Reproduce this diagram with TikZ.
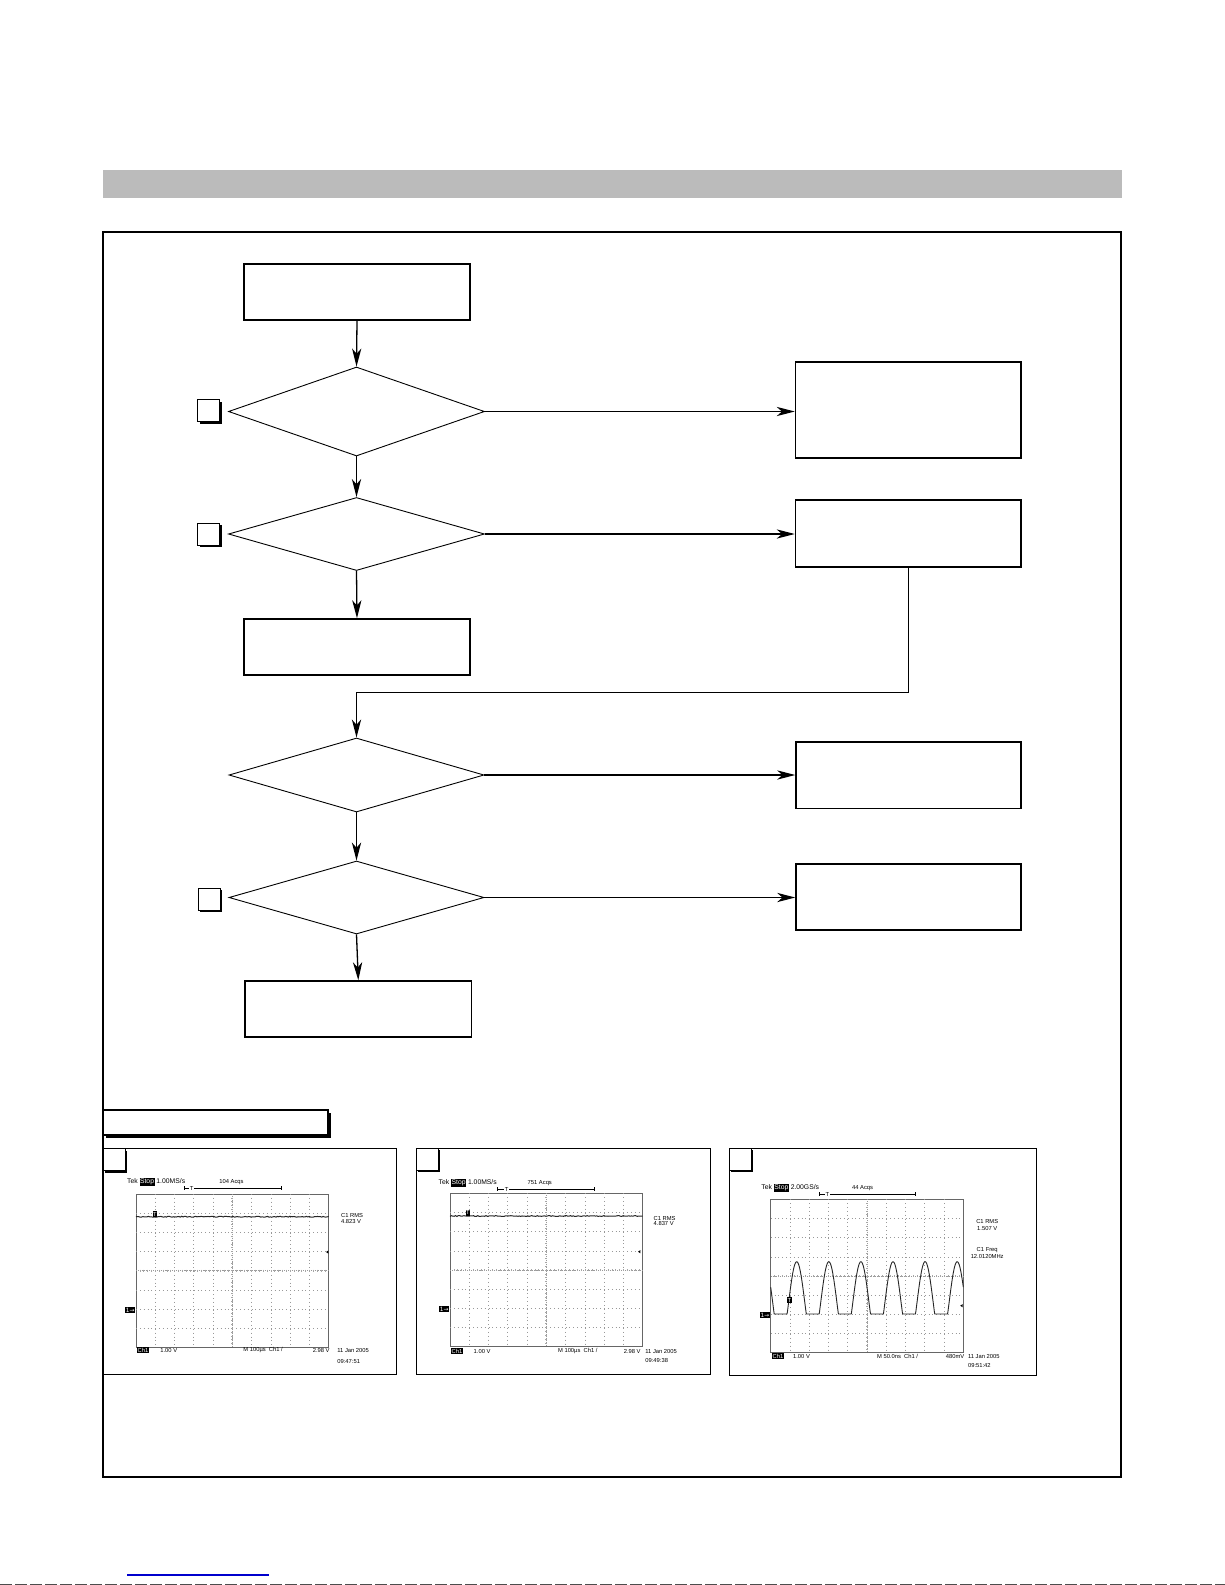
\documentclass[tikz,border=0pt]{standalone}
\usepackage{fontspec}
\setmainfont{Liberation Sans}
\newfontfamily\tekfont{Liberation Sans}
\newfontfamily\tekarrow{DejaVu Sans}
\usetikzlibrary{shapes.geometric,arrows.meta,shadows}
\definecolor{hdrgray}{RGB}{187,187,187}
\definecolor{linkblue}{RGB}{0,0,205}
\newcommand{\tekinv}[1]{{\setlength{\fboxsep}{0.25pt}\colorbox{black}{\color{white}#1}}}
\tikzset{
  frameline/.style={line width=1pt},
  box/.style={draw, line width=0.75pt, inner sep=0pt},
  dec/.style={draw, diamond, line width=0.45pt, inner sep=0pt},
  conn/.style={line width=0.65pt},
  arr/.style={conn, -{Stealth[length=9pt,width=4.6pt,inset=2.6pt]}},
  shad/.style={drop shadow={shadow xshift=1.1pt,shadow yshift=-1.1pt,opacity=1,fill=black}},
  tag/.style={draw, line width=0.45pt, fill=white, minimum size=11pt, inner sep=0pt, shad},
  pan/.style={draw, line width=0.5pt, inner sep=0pt},
  sc/.style={font=\tekfont\fontsize{2.9}{3.3}\selectfont, inner sep=0pt, anchor=west},
  sctop/.style={font=\tekfont\fontsize{3.4}{3.8}\selectfont, inner sep=0pt, anchor=west},
  scinv/.style={sc, fill=black, text=white, inner sep=0.3pt},
  gdot/.style={line width=0.3pt, black!40, dash pattern=on 0.35pt off 1.576pt},
  gaxis/.style={line width=0.3pt, black!40, dash pattern=on 0.35pt off 0.6pt},
  gtick/.style={line width=0.25pt, black!35},
  trace/.style={line width=0.5pt, black!85},
}
\newcommand{\tekgrid}{%
  \draw[line width=0.3pt, black!60] (0,0) rectangle (192.6,153.3);
  \foreach \i in {1,2,3,4,6,7,8,9} \draw[gdot] (\i*19.26,0) -- (\i*19.26,153.3);
  \foreach \j in {1,2,3,5,6,7} \draw[gdot] (0,\j*19.1625) -- (192.6,\j*19.1625);
  \draw[gaxis] (96.3,0) -- (96.3,153.3);
  \draw[gaxis] (0,76.65) -- (192.6,76.65);
  \foreach \k in {1,...,49} \draw[gtick] (\k*3.852,75.7) -- (\k*3.852,77.6);
  \foreach \k in {1,...,39} \draw[gtick] (95.35,\k*3.8325) -- (97.25,\k*3.8325);
}
\newcommand{\tekbracket}[3]{%
  \draw[line width=0.25pt] (#1,#3) -- (#2,#3);
  \draw[line width=0.3pt] (#1,#3-1.8) -- (#1,#3+1.8);
  \draw[line width=0.3pt] (#2,#3-1.8) -- (#2,#3+1.8);
}
\begin{document}
\begin{tikzpicture}[x=0.5pt,y=-0.5pt]
\useasboundingbox (0,0) rectangle (1225,1585);
\fill[white] (0,0) rectangle (1225,1585);
% header bar and frame
\fill[hdrgray] (103,170) rectangle (1122,198);
\draw[frameline] (103,232) rectangle (1121,1477);

% flowchart
\node[box, minimum width=113pt, minimum height=28pt] (b1) at (357,292) {};
\node[dec, minimum width=128pt, minimum height=44.5pt] (d1) at (356.5,411.5) {};
\node[tag] (t1) at (208.5,410.5) {};
\node[box, minimum width=112.75pt, minimum height=48pt] (r1) at (908.25,410) {};
\node[dec, minimum width=128pt, minimum height=36.5pt] (d2) at (356.5,534) {};
\node[tag] (t2) at (208.5,534) {};
\node[box, minimum width=112.75pt, minimum height=33.5pt] (r2) at (908.25,533.5) {};
\node[box, minimum width=113pt, minimum height=28pt] (b3) at (357,647) {};
\node[dec, minimum width=127.5pt, minimum height=37pt] (d3) at (356.5,775) {};
\node[box, minimum width=112.5pt, minimum height=33.3pt] (r3) at (908.5,775.3) {};
\node[dec, minimum width=127.5pt, minimum height=36.5pt] (d4) at (356.5,897.5) {};
\node[tag] (t3) at (209,899) {};
\node[box, minimum width=112.5pt, minimum height=33pt] (r4) at (908.5,897) {};
\node[box, minimum width=113.25pt, minimum height=28pt] (b6) at (358.3,1009) {};

\draw[arr] (b1.south) -- (d1.north);
\draw[arr] (d1.south) -- (d2.north);
\draw[arr] (d2.south) -- (b3.north);
\draw[arr] (d3.south) -- (d4.north);
\draw[arr] (d4.south) -- (b6.north);
\draw[arr] (d1.east) -- (d1.east -| r1.west);
\draw[arr] (d2.east) -- (d2.east -| r2.west);
\draw[arr] (d3.east) -- (d3.east -| r3.west);
\draw[arr] (d4.east) -- (d4.east -| r4.west);
\draw[arr] (r2.south) -- ++(0,125) -| (d3.north);

% waveform label box
\node[box, line width=0.6pt, fill=white, minimum width=112.5pt, minimum height=12.5pt,
      drop shadow={shadow xshift=1.5pt,shadow yshift=-1.5pt,opacity=1,fill=black}] (lab) at (215.5,1122.5) {};

% panels
\node[pan, minimum width=146.5pt, minimum height=112.65pt] (p1) at (249.5,1261.35) {};
\node[tag, anchor=north west] (p1t) at (p1.north west) {};
\node[pan, minimum width=147pt, minimum height=113pt] (p2) at (563,1261) {};
\node[tag, anchor=north west] (p2t) at (p2.north west) {};
\node[pan, minimum width=153.35pt, minimum height=113.5pt] (p3) at (882.65,1261.5) {};
\node[tag, anchor=north west] (p3t) at (p3.north west) {};

\pgfmathsetseed{7}
% ---- panel 1 screen
\begin{scope}[shift={(136,1194)}]
  \tekgrid
  \draw[trace] plot[domain=0:192.6, samples=140] (\x,{22.7+0.45*rand});
  \node[scinv, anchor=center] (s1trg) at (19,20) {T};
  \node[sctop] (s1tek) at (-9.3,-12) {Tek \tekinv{Stop} 1.00MS/s};
  \node[sc] (s1acq) at (83,-12) {104 Acqs};
  \tekbracket{48}{145}{-6}
  \node[sc, anchor=center, fill=white, inner sep=0.3pt] (s1bt) at (55.7,-6) {T};
  \node[sc] (s1c1) at (204.7,21.7) {C1 RMS};
  \node[sc] (s1val) at (204.7,27.7) {4.823 V};
  \fill (190,58) -- ++(2.4,-1.6) -- ++(0,3.2) -- cycle;
  \node[scinv, anchor=east] (s1gnd) at (-0.5,116) {\tekarrow 1→};
  \node[scinv] (s1ch) at (0.7,156) {Ch1};
  \node[sc] (s1vd) at (24,156) {1.00 V};
  \node[sc] (s1m) at (107,156) {M 100µs\ \ Ch1 /};
  \node[sc, anchor=east] (s1lv) at (194,156) {2.98 V};
  \node[sc] (s1date) at (201,156) {11 Jan 2005};
  \node[sc] (s1time) at (201,167) {09:47:51};
\end{scope}

% ---- panel 2 screen
\begin{scope}[shift={(450,1193.3)}]
  \tekgrid
  \draw[trace] plot[domain=0:192.6, samples=140] (\x,{22.7+0.45*rand});
  \node[scinv, anchor=center] (s2trg) at (18,19.6) {T};
  \node[sctop] (s2tek) at (-11.7,-10.3) {Tek \tekinv{Stop} 1.00MS/s};
  \node[sc] (s2acq) at (77.3,-10.3) {751 Acqs};
  \tekbracket{47}{144}{-4.3}
  \node[sc, anchor=center, fill=white, inner sep=0.3pt] (s2bt) at (56.7,-4.3) {T};
  \node[sc] (s2c1) at (203.3,25) {C1 RMS};
  \node[sc] (s2val) at (203.3,30.5) {4.837 V};
  \fill (188,58.4) -- ++(2.4,-1.6) -- ++(0,3.2) -- cycle;
  \node[scinv, anchor=east] (s2gnd) at (-0.5,115.7) {\tekarrow 1→};
  \node[scinv] (s2ch) at (0.7,157.7) {Ch1};
  \node[sc] (s2vd) at (23.3,157.7) {1.00 V};
  \node[sc] (s2m) at (107.7,157.7) {M 100µs\ \ Ch1 /};
  \node[sc, anchor=east] (s2lv) at (191,157.7) {2.98 V};
  \node[sc] (s2date) at (195,157.7) {11 Jan 2005};
  \node[sc] (s2time) at (195,166.7) {09:49:38};
\end{scope}

% ---- panel 3 screen
\begin{scope}[shift={(770.7,1199.3)}]
  \tekgrid
  \draw[trace, line width=0.45pt] plot[domain=0:192.6, samples=500]
     (\x,{114.7-52.3*max(0,cos(11.215*(\x-26))+0.3)/1.3});
  \node[scinv, anchor=center] (s3trg) at (18.6,100.7) {T};
  \node[sctop] (s3tek) at (-9.7,-11.3) {Tek \tekinv{Stop} 2.00GS/s};
  \node[sc] (s3acq) at (81,-11.3) {44 Acqs};
  \tekbracket{48.3}{144.3}{-5.3}
  \node[sc, anchor=center, fill=white, inner sep=0.3pt] (s3bt) at (56.6,-5.3) {T};
  \node[sc, anchor=center] (s3c1) at (216.5,22.4) {C1 RMS};
  \node[sc, anchor=center] (s3val) at (216.5,28.7) {1.507 V};
  \node[sc, anchor=center] (s3f) at (216.5,50.7) {C1 Freq};
  \node[sc, anchor=center] (s3fv) at (216.5,57.2) {12.0120MHz};
  \fill (189.5,106.4) -- ++(2.4,-1.6) -- ++(0,3.2) -- cycle;
  \node[scinv, anchor=east] (s3gnd) at (-0.5,115.7) {\tekarrow 1→};
  \node[scinv] (s3ch) at (1,156.7) {Ch1};
  \node[sc] (s3vd) at (22,156.7) {1.00 V};
  \node[sc] (s3m) at (106,156.7) {M 50.0ns\ \ Ch1 /};
  \node[sc, anchor=east] (s3lv) at (194,156.7) {480mV};
  \node[sc] (s3date) at (197,156.7) {11 Jan 2005};
  \node[sc] (s3time) at (197,165.7) {09:51:42};
\end{scope}

% bottom link underline and edge line
\draw[linkblue, line width=0.55pt] (127,1575) -- (269,1575);
\draw[black!70, line width=0.5pt, dash pattern=on 6pt off 1.5pt] (0,1584.5) -- (1225,1584.5);
\end{tikzpicture}
\end{document}
